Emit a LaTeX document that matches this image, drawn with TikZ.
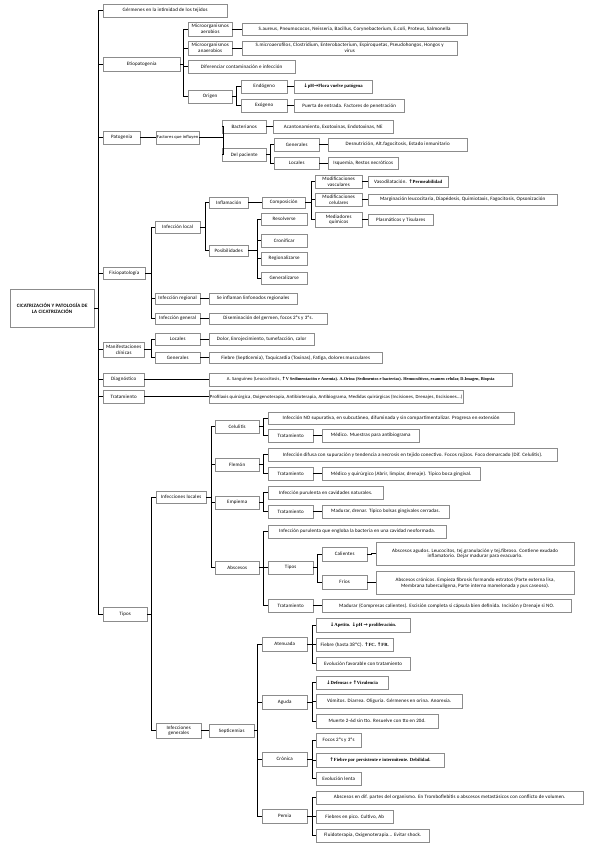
\documentclass[tikz,border=0pt]{standalone}
\usepackage{fontspec}
\setmainfont{Carlito}[LetterSpace=3]
\newfontfamily\bsf{Liberation Serif}
\newfontfamily\arrf{DejaVu Sans}
\usetikzlibrary{shadows}
\tikzset{
  box/.style={draw=black!45, line width=0.35pt, fill=white, inner sep=0.8pt, align=center,
    font=\fontsize{5.0}{5.9}\selectfont,
    drop shadow={shadow xshift=1.1pt, shadow yshift=-1.1pt, fill=black!45, opacity=0.6}},
  conn/.style={line width=1.2pt, black}
}
\newcommand\bx[6]{\pgfmathsetmacro\bw{#4-#2}\pgfmathsetmacro\bh{#5-#3}%
  \node[box,anchor=north west,minimum width=\bw pt,minimum height=\bh pt] (#1) at (#2,#3) {#6};}
\newcommand\con[3]{\foreach \c in {#3} {\draw[conn] (#1.east) -- ++(#2,0) |- (\c.west);}}
\newcommand\B[1]{{\bsf\bfseries\fontsize{4.7}{5.6}\selectfont #1}}
\newcommand\U{{\arrf\bfseries ↑}}
\newcommand\D{{\arrf\bfseries ↓}}
\newcommand\R{{\arrf\bfseries →}}
\begin{document}
\begin{tikzpicture}[x=1pt,y=-1pt]
\useasboundingbox (0,0) rectangle (600,848);
% root
\bx{root}{10}{289}{94}{327}{\textbf{CICATRIZACIÓN Y PATOLOGÍA DE}\\\textbf{LA CICATRIZACIÓN}}
% level 1
\bx{germ}{103}{4}{227}{17}{Gérmenes en la intimidad de los tejidos}
\bx{etio}{103}{57}{180}{71}{Etiopatogenia}
\bx{pato}{103}{131}{140}{144}{Patogenia}
\bx{fisio}{103}{267}{145}{279}{Fisiopatología}
\bx{manif}{103}{342}{144}{357}{Manifestaciones\\clínicas}
\bx{diag}{103}{373}{144}{386}{Diagnóstico}
\bx{trat}{103}{390}{144}{403}{Tratamiento}
\bx{tipos}{103}{607}{147}{621}{Tipos}
\con{root}{4}{germ,etio,pato,fisio,manif,diag,trat,tipos}
% Etiopatogenia
\bx{aer}{188}{22}{232}{36}{Microorganismos\\aerobios}
\bx{anaer}{188}{41}{232}{55}{Microorganismos\\anaerobios}
\bx{difer}{188}{60}{295}{73}{Diferenciar contaminación e infección}
\bx{origen}{188}{90}{232}{103}{Origen}
\con{etio}{3.5}{aer,anaer,difer,origen}
\bx{aerl}{242}{23}{467}{35}{S.aureus, Pneumococos, Neisseria, Bacillus, Corynebacterium, E.coli, Proteus, Salmonella}
\bx{anaerl}{242}{41}{457}{55}{S.microaerofilos, Clostridium, Enterobacterium, Espiroquetas, Pseudohongos, Hongos y\\virus}
\con{aer}{5}{aerl}
\con{anaer}{5}{anaerl}
\bx{endo}{241}{80}{287}{93}{Endógeno}
\bx{exo}{241}{99}{287}{112}{Exógeno}
\con{origen}{4}{endo,exo}
\bx{endol}{294}{80}{372}{93}{\D\B{pH}\R\B{Flora vuelve patógena}}
\bx{exol}{294}{99}{404}{112}{Puerta de entrada. Factores de penetración}
\con{endo}{3.5}{endol}
\con{exo}{3.5}{exol}
% Patogenia
\bx{factor}{156}{131}{192}{144}{\scalebox{0.9}{Factores que influyen}}
\con{pato}{8}{factor}
\bx{bact}{222}{120}{266}{133}{Bacterianos}
\bx{delpac}{222}{148}{266}{161}{Del paciente}
\con{factor}{24}{bact,delpac}
\bx{bactl}{273}{120}{393}{133}{Acantonamiento, Exotoxinas, Endotoxinas, NE}
\con{bact}{3.5}{bactl}
\bx{pgen}{274}{138}{319}{151}{Generales}
\bx{ploc}{274}{157}{319}{169}{Locales}
\con{delpac}{4}{pgen,ploc}
\bx{pgenl}{328}{138}{467}{151}{Desnutrición, Alt.fagocitosis, Estado inmunitario}
\bx{plocl}{328}{157}{398}{169}{Isquemia, Restos necróticos}
\con{pgen}{4.5}{pgenl}
\con{ploc}{4.5}{plocl}
% Fisiopatologia
\bx{iloc}{155}{221}{200}{233}{Infección local}
\bx{ireg}{155}{293}{200}{304}{Infección regional}
\bx{igen}{155}{313}{200}{324}{Infección general}
\con{fisio}{6}{iloc,ireg,igen}
\bx{iregl}{209}{293}{297}{304}{Se inflaman linfonodos regionales}
\bx{igenl}{209}{313}{327}{324}{Diseminación del germen, focos 2ºs y 3ºs.}
\con{ireg}{4.5}{iregl}
\con{igen}{4.5}{igenl}
\bx{inflam}{209}{197}{248}{208}{Inflamación}
\bx{posib}{209}{245}{248}{256}{Posibilidades}
\con{iloc}{5}{inflam,posib}
\bx{compo}{262}{197}{305}{208}{Composición}
\con{inflam}{7}{compo}
\bx{mvas}{315}{175}{362}{188}{Modificaciones\\vasculares}
\bx{mcel}{315}{193}{362}{206}{Modificaciones\\celulares}
\bx{mquim}{315}{212}{362}{227}{Mediadores\\químicos}
\con{compo}{6}{mvas,mcel,mquim}
\bx{mvasl}{368}{176}{448}{187}{Vasodilatación. \U\B{Permeabilidad}}
\bx{mcell}{368}{194}{557}{205}{Marginación leucocitaria, Diapédesis, Quimiotaxis, Fagocitosis, Opsonización}
\bx{mquiml}{368}{214}{433}{225}{Plasmáticos y Tisulares}
\con{mvas}{3}{mvasl}
\con{mcel}{3}{mcell}
\con{mquim}{3}{mquiml}
\bx{resol}{261}{213}{307}{225}{Resolverse}
\bx{cronif}{261}{234}{307}{247}{Cronificar}
\bx{regio}{261}{252}{307}{265}{Regionalizarse}
\bx{gener}{261}{272}{307}{284}{Generalizarse}
\con{posib}{9}{resol,cronif,regio,gener}
% Manifestaciones
\bx{mloc}{155}{333}{200}{345}{Locales}
\bx{mgen}{155}{352}{200}{363}{Generales}
\con{manif}{7}{mloc,mgen}
\bx{mlocl}{209}{333}{314}{345}{Dolor, Enrojecimiento, tumefacción, calor}
\bx{mgenl}{209}{352}{382}{363}{Fiebre (Septicemia), Taquicardia (Toxinas), Fatiga, dolores musculares}
\con{mloc}{4.5}{mlocl}
\con{mgen}{4.5}{mgenl}
% Diagnostico / Tratamiento
\bx{diagl}{209}{373}{512}{386}{\scalebox{0.92}{A. Sanguíneo (Leucocitosis, \U\B{V Sedimentación e Anemia). A.Orina (Sedimentos e bacterias). Hemocultivos, examen celular, D.Imagen, Biopsia}}}
\con{diag}{30}{diagl}
\bx{tratl}{209}{390}{448}{403}{\scalebox{0.95}{Profilaxis quirúrgica, Oxigenoterapia, Antibioterapia, Antibiograma, Medidas quirúrgicas (Incisiones, Drenajes, Escisiones...)}}
\con{trat}{30}{tratl}
% Tipos
\bx{ilocs}{156}{491}{206}{503}{Infecciones locales}
\bx{igens}{156}{723}{201}{738}{Infecciones\\generales}
\con{tipos}{4}{ilocs,igens}
\bx{celu}{215}{420}{259}{433}{Celulitis}
\bx{flem}{215}{458}{259}{471}{Flemón}
\bx{empi}{215}{496}{259}{509}{Empiema}
\bx{absc}{215}{561}{259}{574}{Abscesos}
\con{ilocs}{5}{celu,flem,empi,absc}
% Celulitis
\bx{celul}{268}{412}{514}{424}{Infección NO supurativa, en subcutáneo, difuminada y sin compartimentalizar. Progresa en extensión}
\bx{celut}{268}{429}{313}{442}{Tratamiento}
\con{celu}{4}{celul,celut}
\bx{celutl}{322}{429}{419}{442}{Médico. Muestras para antibiograma}
\con{celut}{4.5}{celutl}
% Flemon
\bx{fleml}{268}{448}{557}{461}{Infección difusa con supuración y tendencia a necrosis en tejido conectivo. Focos rojizos. Foco demarcado (Dif. Celulitis).}
\bx{flemt}{268}{467}{313}{480}{Tratamiento}
\con{flem}{4}{fleml,flemt}
\bx{flemtl}{322}{467}{480}{480}{Médico y quirúrgico (Abrir, limpiar, drenaje). Típico boca gingival.}
\con{flemt}{4.5}{flemtl}
% Empiema
\bx{empil}{268}{486}{383}{499}{Infección purulenta en cavidades naturales.}
\bx{empit}{268}{505}{313}{518}{Tratamiento}
\con{empi}{4}{empil,empit}
\bx{empitl}{322}{505}{449}{518}{Madurar, drenar. Típico bolsas gingivales cerradas.}
\con{empit}{4.5}{empitl}
% Abscesos
\bx{abscl}{268}{525}{446}{538}{Infección purulenta que engloba la bacteria en una cavidad neoformada.}
\bx{absct}{268}{561}{313}{574}{Tipos}
\bx{abscr}{268}{599}{313}{612}{Tratamiento}
\con{absc}{4}{abscl,absct,abscr}
\bx{calie}{322}{547}{367}{561}{Calientes}
\bx{frios}{322}{575}{367}{589}{Fríos}
\con{absct}{4}{calie,frios}
\bx{caliel}{376}{542}{574}{565}{Abscesos agudos. Leucocitos, tej.granulación y tej.fibroso. Contiene exudado\\inflamatorio. Dejar madurar para evacuarlo.}
\bx{friosl}{376}{571}{574}{594}{Abscesos crónicos. Empieza fibrosis formando estratos (Parte externa lisa,\\Membrana tuberculígena, Parte interna mamelonada y pus caseoso).}
\con{calie}{4.5}{caliel}
\con{frios}{4.5}{friosl}
\bx{abscrl}{322}{599}{571}{612}{Madurar (Compresas calientes). Escisión completa si cápsula bien definida. Incisión y Drenaje si NO.}
\con{abscr}{4.5}{abscrl}
% Infecciones generales
\bx{septi}{209}{724}{254}{737}{Septicemias}
\con{igens}{4}{septi}
\bx{aten}{262}{637}{307}{651}{Atenuada}
\bx{agud}{262}{695}{307}{709}{Aguda}
\bx{cron}{262}{752}{307}{766}{Crónica}
\bx{pemi}{262}{809}{307}{823}{Pemia}
\con{septi}{3}{aten,agud,cron,pemi}
\bx{atena}{316}{618}{410}{632}{\D\B{Apetito. }\D\B{pH }\R\B{ proliferación.}}
\bx{atenb}{316}{638}{393}{651}{Fiebre (hasta 38ºC). \U\B{FC. }\U\B{FR.}}
\bx{atenc}{316}{657}{410}{670}{Evolución favorable con tratamiento}
\con{aten}{5}{atena,atenb,atenc}
\bx{aguda}{316}{676}{388}{689}{\D\B{Defensas e }\U\B{Virulencia}}
\bx{agudb}{316}{694}{462}{708}{Vómitos. Diarrea. Oliguria. Gérmenes en orina. Anorexia.}
\bx{agudc}{316}{714}{438}{728}{Muerte 2-6d sin tto. Resuelve con tto en 20d.}
\con{agud}{5}{aguda,agudb,agudc}
\bx{crona}{316}{733}{361}{747}{Focos 2ºs y 3ºs}
\bx{cronb}{316}{753}{444}{767}{\U\B{Fiebre por persistente e intermitente. Debilidad.}}
\bx{cronc}{316}{772}{361}{785}{Evolución lenta}
\con{cron}{5}{crona,cronb,cronc}
\bx{pemia}{316}{791}{583}{804}{Abscesos en dif. partes del organismo. En Tromboflebitis o abscesos metastásicos con conflicto de volumen.}
\bx{pemib}{316}{810}{393}{823}{Fiebres en pico. Cultivo, Ab}
\bx{pemic}{316}{829}{429}{842}{Fluidoterapia, Oxigenoterapia... Evitar shock.}
\con{pemi}{5}{pemia,pemib,pemic}
\end{tikzpicture}
\end{document}
